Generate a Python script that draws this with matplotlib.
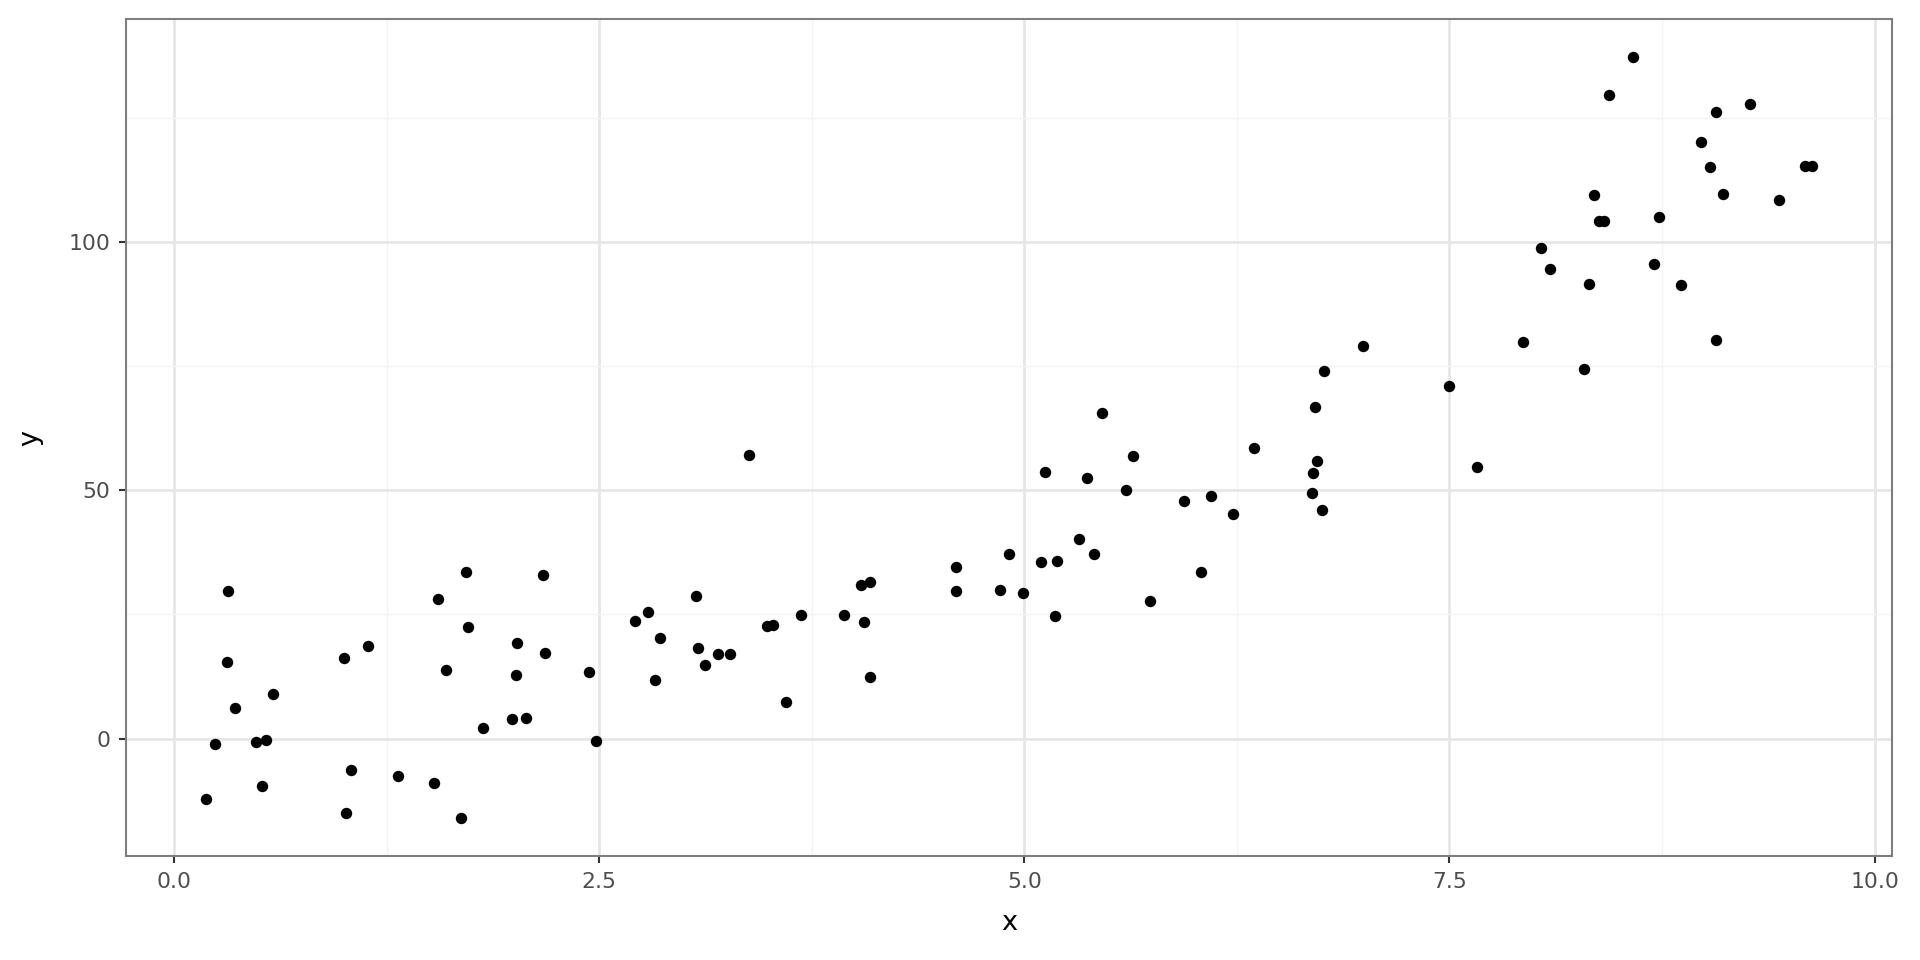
import numpy as np
import matplotlib.pyplot as plt

# values
x = [0.19, 0.24, 0.31, 0.32, 0.36, 0.48, 0.52, 0.54, 0.58, 1.00,
     1.01, 1.04, 1.14, 1.32, 1.53, 1.55, 1.60, 1.69, 1.72, 1.73,
     1.82, 1.99, 2.01, 2.02, 2.07, 2.17, 2.18, 2.44, 2.48, 2.71,
     2.79, 2.83, 2.86, 3.07, 3.08, 3.12, 3.20, 3.27, 3.38, 3.49,
     3.52, 3.60, 3.69, 3.94, 4.04, 4.06, 4.09, 4.09, 4.60, 4.60,
     4.86, 4.91, 4.99, 5.10, 5.12, 5.19, 5.18, 5.32, 5.37, 5.41,
     5.46, 5.60, 5.64, 5.74, 5.94, 6.04, 6.10, 6.23, 6.35, 6.70,
     6.69, 6.71, 6.72, 6.75, 6.76, 6.99, 7.50, 7.66, 7.93, 8.04,
     8.09, 8.29, 8.32, 8.35, 8.38, 8.41, 8.44, 8.58, 8.70, 8.73,
     8.86, 8.98, 9.03, 9.07, 9.07, 9.11, 9.27, 9.44, 9.59, 9.63]
y = [-12.1, -1.2, 15.5, 29.6, 6.2, -0.7, -9.6, -0.2, 8.9, 16.3,
     -15.0, -6.4, 18.7, -7.6, -8.9, 28.1, 13.8, -16.0, 33.5, 22.4,
     2.2, 3.9, 12.8, 19.2, 4.2, 33.0, 17.2, 13.3, -0.5, 23.6,
     25.4, 11.8, 20.2, 28.6, 18.2, 14.8, 17.0, 17.0, 57.1, 22.7,
     22.9, 7.4, 24.9, 24.9, 31.0, 23.4, 31.5, 12.3, 34.5, 29.8,
     30.0, 37.2, 29.3, 35.5, 53.7, 35.7, 24.6, 40.1, 52.5, 37.2,
     65.5, 50.0, 56.9, 27.6, 47.8, 33.5, 48.8, 45.3, 58.4, 53.4,
     49.5, 66.7, 55.9, 46.1, 73.9, 79.1, 70.9, 54.7, 79.8, 98.8,
     94.6, 74.4, 91.6, 109.4, 104.2, 104.2, 129.6, 137.2, 95.6, 104.9,
     91.4, 120.0, 115.0, 80.3, 126.1, 109.6, 127.8, 108.4, 115.3, 115.3]

x_breaks = [0.0, 2.5, 5.0, 7.5, 10.0]
y_breaks = [0, 50, 100]

fig = plt.figure(figsize=(12.8, 6.4), dpi=150)
ax = fig.add_axes([0.0656, 0.1083, 0.9198, 0.8719])

# ggplot-style 5% expansion
xr = max(x) - min(x)
yr = max(y) - min(y)
ax.set_xlim(min(x) - 0.05 * xr, max(x) + 0.05 * xr)
ax.set_ylim(min(y) - 0.05 * yr, max(y) + 0.05 * yr)

ax.set_xticks(x_breaks)
ax.set_xticklabels(["0.0", "2.5", "5.0", "7.5", "10.0"])
ax.set_yticks(y_breaks)
ax.set_xticks([1.25, 3.75, 6.25, 8.75], minor=True)
ax.set_yticks([25, 75, 125], minor=True)

ax.grid(which="major", color="#E6E6E6", linewidth=1.3)
ax.grid(which="minor", color="#F4F4F4", linewidth=0.7)
ax.set_axisbelow(True)

ax.scatter(x, y, s=30, color="black", linewidths=0, zorder=3)

for sp in ax.spines.values():
    sp.set_color("#7f7f7f")
    sp.set_linewidth(1.0)

ax.tick_params(which="major", length=3.5, width=1.0, color="#333333",
               labelcolor="#4D4D4D", labelsize=10.5, pad=4)
ax.tick_params(which="minor", length=0)

ax.set_xlabel("x", fontsize=13, labelpad=9)
ax.set_ylabel("y", fontsize=13, labelpad=12)

fig.savefig("out.png", dpi=150)
